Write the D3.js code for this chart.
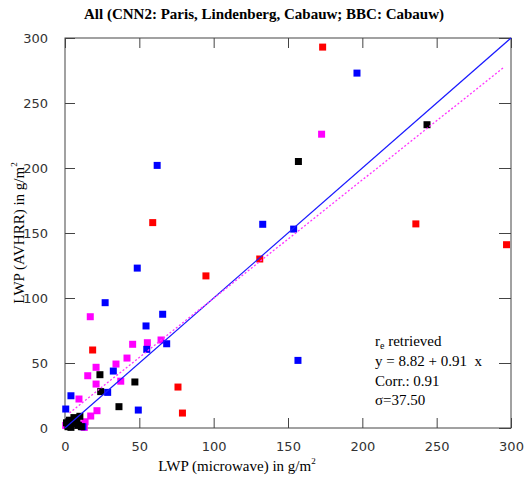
<!DOCTYPE html>
<html><head><meta charset="utf-8">
<script src="https://cdn.jsdelivr.net/npm/d3@7"></script>
<style>
body{margin:0;background:#fff;}
svg{display:block;}
</style></head>
<body>
<script>
const titleText = "All (CNN2: Paris, Lindenberg, Cabauw; BBC: Cabauw)";
const xLabel = "LWP (microwave) in g/m";
const yLabel = "LWP (AVHRR) in g/m";
const xTicks = [0, 50, 100, 150, 200, 250, 300];
const yTicks = [0, 50, 100, 150, 200, 250, 300];

const redPts = [[173.3,293],[236,157],[297,141],[59,158],[94.8,117],[131,130],[76,31.5],[79,11.5],[18.6,60]];
const bluePts = [[196.4,273],[62,202],[133,156.7],[153.8,153],[48.6,123],[65.7,87.5],[54.5,78.5],[156.7,52],[27,96.4],[55,60.5],[68.4,64.8],[32.5,43.8],[28.7,27.4],[4,24.8],[0.5,14.6],[49.3,13.8],[12,1]];
const magentaPts = [[172.6,226],[17,85.6],[45.5,64.4],[55.4,65.6],[64.6,67.7],[41.7,53.8],[34.3,49.2],[20.9,46.7],[15.3,40.2],[20.9,33.8],[9.4,22.3],[21.5,13.3],[17.3,9.2],[13.5,4.8],[37.5,36],[0.5,2],[12,3],[13,0.5]];
const blackPts = [[243.5,233.3],[157,205],[23.5,41],[47,35.4],[24,28],[36.3,16.4],[2,1],[5,3],[8,5],[10,9],[6,8],[3,6],[9,2],[11,1],[1,4],[4,0.5]];

const fitIntercept = 8.82, fitSlope = 0.91, fitRange = [3, 295];
const annLines = ["retrieved", "y = 8.82 + 0.91  x", "Corr.: 0.91", "\u03c3=37.50"];

const W = 529, H = 486;
const m = {left:65, right:18, top:38, bottom:58};
const svg = d3.select("body").append("svg").attr("width", W).attr("height", H);

const x = d3.scaleLinear().domain([0,300]).range([m.left, W - m.right]);
const y = d3.scaleLinear().domain([0,300]).range([H - m.bottom, m.top]);

const frameCol = "#444";
const tickFont = "'DejaVu Sans', sans-serif";

// frame
svg.append("rect").attr("x", x(0)).attr("y", y(300)).attr("width", x(300)-x(0)).attr("height", y(0)-y(300))
  .attr("fill","none").attr("stroke",frameCol).attr("stroke-width",1);

// axes with inward ticks
const gB = svg.append("g").attr("transform",`translate(0,${y(0)})`)
  .call(d3.axisBottom(x).tickValues(xTicks).tickSizeInner(-10).tickSizeOuter(0).tickPadding(14));
const gT = svg.append("g").attr("transform",`translate(0,${y(300)})`)
  .call(d3.axisTop(x).tickValues(xTicks).tickSizeInner(-10).tickSizeOuter(0).tickFormat(""));
const gL = svg.append("g").attr("transform",`translate(${x(0)},0)`)
  .call(d3.axisLeft(y).tickValues(yTicks).tickSizeInner(-10).tickSizeOuter(0).tickPadding(17));
const gR = svg.append("g").attr("transform",`translate(${x(300)},0)`)
  .call(d3.axisRight(y).tickValues(yTicks).tickSizeInner(-12).tickSizeOuter(0).tickFormat(""));
[gB,gT,gL,gR].forEach(g=>{
  g.select(".domain").remove();
  g.selectAll("line").attr("stroke",frameCol);
  g.selectAll("text").attr("fill","#333").style("font-family",tickFont).style("font-size","13px");
});

// points
const sz = 7;
function drawPts(data, col){
  svg.append("g").selectAll("rect").data(data).join("rect")
    .attr("x", d=>x(d[0])-sz/2).attr("y", d=>y(d[1])-sz/2)
    .attr("width", sz).attr("height", sz).attr("fill", col);
}
drawPts(magentaPts, "#ff00ff");
drawPts(bluePts, "#0000ff");
drawPts(redPts, "#ff0000");
drawPts(blackPts, "#000000");

// 1:1 line
svg.append("line").attr("x1",x(0)).attr("y1",y(0)).attr("x2",x(300)).attr("y2",y(300))
  .attr("stroke","#1a1aff").attr("stroke-width",1.2);
// regression line
svg.append("line").attr("x1",x(fitRange[0])).attr("y1",y(fitIntercept+fitSlope*fitRange[0]))
  .attr("x2",x(fitRange[1])).attr("y2",y(fitIntercept+fitSlope*fitRange[1]))
  .attr("stroke","#ff33ff").attr("stroke-width",1.3).attr("stroke-dasharray","2,2");

// title
svg.append("text").attr("x",264).attr("y",19).attr("text-anchor","middle")
  .style("font-family","'Liberation Serif', serif").style("font-weight","bold").style("font-size","15px")
  .attr("fill","#000").text(titleText);

// x label
const xl = svg.append("text").attr("x",237).attr("y",471).attr("text-anchor","middle")
  .style("font-family","'Liberation Serif', serif").style("font-size","15px").attr("fill","#000");
xl.append("tspan").text(xLabel);
xl.append("tspan").attr("dy",-7).style("font-size","9px").text("2");

// y label
const yl = svg.append("text").attr("transform",`translate(24,${(y(0)+y(300))/2}) rotate(-90)`)
  .attr("text-anchor","middle")
  .style("font-family","'Liberation Serif', serif").style("font-size","15px").attr("fill","#000");
yl.append("tspan").text(yLabel);
yl.append("tspan").attr("dy",-7).style("font-size","9px").text("2");

// annotation
const ann = svg.append("g").style("font-family","'Liberation Serif', serif").style("font-size","15px").attr("fill","#000");
const a0 = ann.append("text").attr("x",375).attr("y",346);
a0.append("tspan").text("r");
a0.append("tspan").attr("dy",3).style("font-size","10px").text("e");
a0.append("tspan").attr("dy",-3).text(" " + annLines[0]);
annLines.slice(1).forEach((t,i)=>{
  ann.append("text").attr("x",375).attr("y",366 + i*19.5).style("white-space","pre").attr("xml:space","preserve").text(t);
});
</script>
</body></html>
